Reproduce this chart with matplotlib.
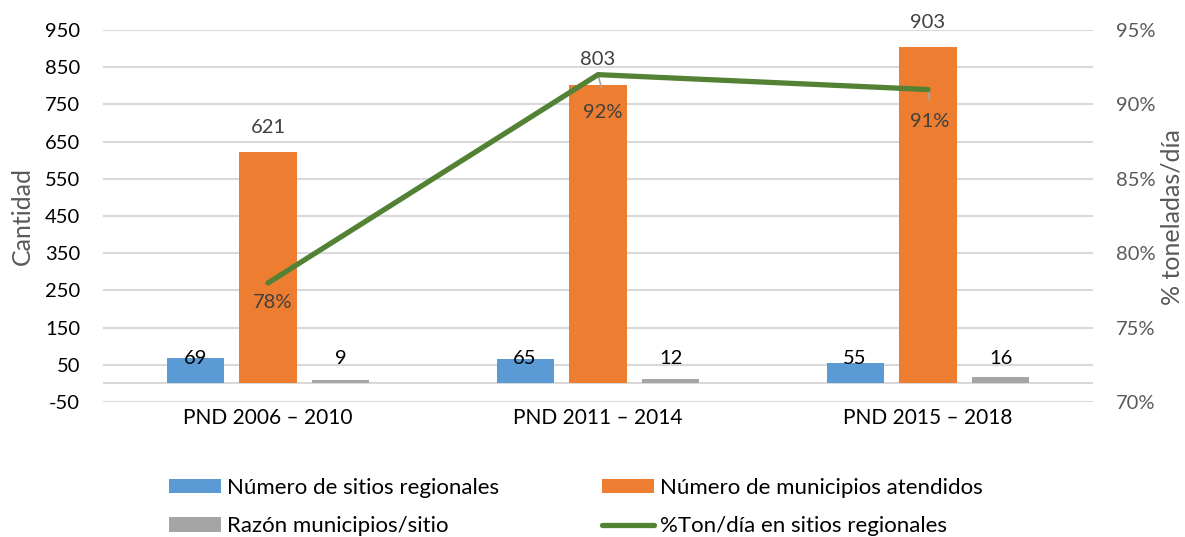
import matplotlib
matplotlib.use("Agg")
import matplotlib.pyplot as plt
import numpy as np
from matplotlib.ticker import FuncFormatter

plt.rcParams['font.family'] = ['Lato', 'DejaVu Sans']
plt.rcParams['axes.unicode_minus'] = False

categories = ["PND 2006 – 2010", "PND 2011 – 2014", "PND 2015 – 2018"]
sitios = [69, 65, 55]
municipios = [621, 803, 903]
razon = [9, 12, 16]
pct_ton = [0.78, 0.92, 0.91]
left_ticks = [-50, 50, 150, 250, 350, 450, 550, 650, 750, 850, 950]
right_ticks = [0.70, 0.75, 0.80, 0.85, 0.90, 0.95]

C_BLUE = "#5B9BD5"
C_ORANGE = "#ED7D31"
C_GRAY = "#A5A5A5"
C_GREEN = "#548235"
C_TXT = "#595959"
C_GRID = "#D9D9D9"

W, H = 1185, 537
fig = plt.figure(figsize=(W/100, H/100), dpi=100)
ax = fig.add_axes([103/W, 1-402/H, (1093-103)/W, (402-30)/H])
x = np.arange(len(categories))
w = 0.173
off = 0.221

ax.set_ylim(-50, 950)
ax.set_xlim(-0.5, 2.5)
ax.set_yticks(left_ticks)
ax.grid(axis='y', color=C_GRID, linewidth=1.5, zorder=0)
ax.set_axisbelow(True)
ax.axhline(0, color=C_GRID, linewidth=1.5, zorder=1)
for s in ax.spines.values():
    s.set_visible(False)
ax.tick_params(axis='y', length=0, labelsize=14.5, colors='#000000', pad=16.5)
ax.set_xticks(x)
ax.set_xticklabels(categories, fontsize=15)
ax.tick_params(axis='x', length=0, colors='#000000', pad=4)

b1 = ax.bar(x - off, sitios, w, color=C_BLUE, zorder=2, label="Número de sitios regionales")
b2 = ax.bar(x, municipios, w, color=C_ORANGE, zorder=2, label="Número de municipios atendidos")
b3 = ax.bar(x + off, razon, w, color=C_GRAY, zorder=2, label="Razón municipios/sitio")

for xi, v in zip(x, sitios):
    ax.text(xi - off, 68, f"{v}", ha='center', va='center', fontsize=14.5, color='#000000', zorder=5)
for xi, v in zip(x, razon):
    ax.text(xi + off, 68, f"{v}", ha='center', va='center', fontsize=14.5, color='#000000', zorder=5)
for xi, v in zip(x, municipios):
    ax.annotate(f"{v}", (xi, v), xytext=(0, 25), textcoords='offset pixels',
                ha='center', va='center', fontsize=14.5, color='#404040', zorder=5)

ax2 = ax.twinx()
ax2.set_ylim(0.70, 0.95)
ax2.set_yticks(right_ticks)
ax2.yaxis.set_major_formatter(FuncFormatter(lambda v, p: f"{v*100:.0f}%"))
for s in ax2.spines.values():
    s.set_visible(False)
ax2.tick_params(axis='y', length=0, labelsize=14.5, colors=C_TXT, pad=16.5)
ln, = ax2.plot(x, pct_ton, color=C_GREEN, linewidth=3.8, solid_capstyle='round',
               label="%Ton/día en sitios regionales", zorder=4)

lbl_offsets = [(5, -20), (5, -38), (2, -32)]
for i, (xi, v) in enumerate(zip(x, pct_ton)):
    dx, dy = lbl_offsets[i]
    ax2.annotate(f"{v*100:.0f}%", (xi, v), xytext=(dx, dy), textcoords='offset pixels',
                 ha='center', va='center', fontsize=14.5, color='#404040', zorder=5)
    if i > 0:
        ax2.annotate("", (xi, v), xytext=(dx * 0.7, dy * 0.4 + 2), textcoords='offset pixels',
                     arrowprops=dict(arrowstyle='-', color=C_GRAY, lw=1.2, shrinkA=0, shrinkB=0))

fig.text(22/W, 1-216/H, "Cantidad", rotation=90, ha='center', va='center',
         fontsize=18, color=C_TXT)
fig.text(1172/W, 1-217/H, "% toneladas/día", rotation=90, ha='center', va='center',
         fontsize=18, color=C_TXT)

handles = [b1, b3, b2, ln]
labels = [h.get_label() for h in handles]
fig.legend(handles, labels, ncol=2, loc='upper left', bbox_to_anchor=(169/W, 1-478/H),
           frameon=False, fontsize=16, handlelength=2.35, handleheight=0.63,
           handletextpad=0.27, columnspacing=4.6, labelspacing=0.83,
           borderaxespad=0, borderpad=0)

fig.savefig("out.png", dpi=100)
